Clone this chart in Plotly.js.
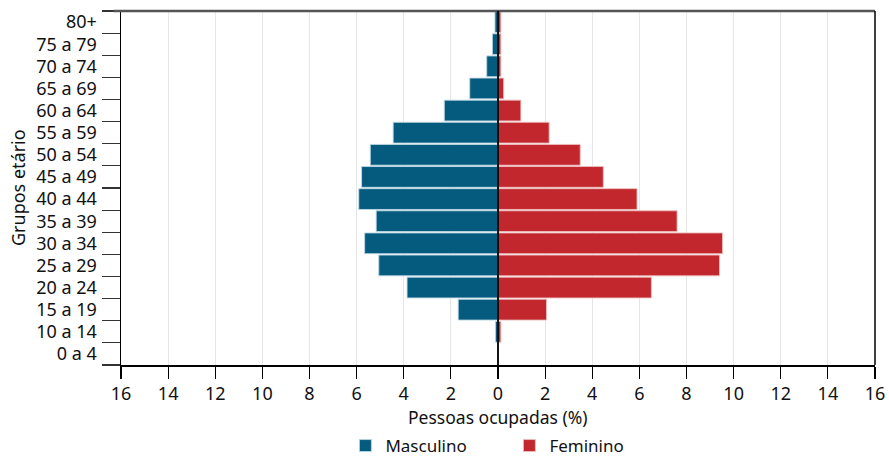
<!DOCTYPE html>
<html>
<head>
<meta charset="utf-8">
<script src="https://cdn.plot.ly/plotly-3.0.1.min.js"></script>
<style>html,body{margin:0;padding:0;background:#fff}#chart{width:889px;height:457px}</style>
</head>
<body>
<div id="chart"></div>
<script>
const ageGroups = ["0 a 4","10 a 14","15 a 19","20 a 24","25 a 29","30 a 34","35 a 39","40 a 44","45 a 49","50 a 54","55 a 59","60 a 64","65 a 69","70 a 74","75 a 79","80+"];
const masculino = [0, 0.11, 1.69, 3.86, 5.06, 5.66, 5.17, 5.91, 5.79, 5.42, 4.45, 2.28, 1.2, 0.48, 0.24, 0.13];
const feminino  = [0, 0.12, 2.06, 6.51, 9.4, 9.53, 7.6, 5.9, 4.47, 3.49, 2.17, 0.97, 0.24, 0.12, 0.12, 0.12];
const xTicks = [-16,-14,-12,-10,-8,-6,-4,-2,0,2,4,6,8,10,12,14,16];

const FONT = "Noto Sans, Open Sans, sans-serif";
const yIdx = ageGroups.map((_, i) => i);
const boundaries = ageGroups.map((_, i) => i - 0.5).concat([ageGroups.length - 0.5]);

const traces = [
  {type:'bar', orientation:'h', name:'Masculino', y:yIdx, x:masculino.map(v=>-v),
   marker:{color:'#045b7e', line:{color:'rgba(190,215,228,0.9)', width:1}}, hoverinfo:'skip'},
  {type:'bar', orientation:'h', name:'Feminino', y:yIdx, x:feminino,
   marker:{color:'#c1272d', line:{color:'rgba(238,190,190,0.9)', width:1}}, hoverinfo:'skip'}
];
const layout = {
  width:889, height:457,
  margin:{l:121, r:14, t:11, b:92},
  paper_bgcolor:'#fff', plot_bgcolor:'#fff',
  font:{family:FONT, size:18, color:'#111'},
  barmode:'relative', bargap:0.06,
  showlegend:true,
  legend:{orientation:'h', xref:'container', yref:'container', x:0.573, xanchor:'center', y:(457-446)/457, yanchor:'middle',
          font:{size:17}, entrywidth:119, traceorder:'normal', tracegroupgap:0},
  xaxis:{range:[-16,16], tickvals:xTicks, ticktext:xTicks.map(v=>String(Math.abs(v))),
         automargin:false,
         showgrid:true, gridcolor:'#e6e6e6', gridwidth:1, zeroline:false,
         showline:true, linecolor:'#000', linewidth:1.5,
         ticks:'outside', ticklen:12, tickcolor:'#000', tickwidth:1.2,
         tickfont:{size:18}, fixedrange:true},
  yaxis:{range:[-0.5, ageGroups.length - 0.5], tickvals:yIdx, ticktext:ageGroups,
         automargin:false,
         showgrid:false, zeroline:false, showline:true, linecolor:'#000', linewidth:1.5,
         ticks:'', ticklabelstandoff:19, tickfont:{size:18}, fixedrange:true,
         minor:{tickvals:boundaries, ticks:'outside', ticklen:18, tickcolor:'#333', tickwidth:1.2, showgrid:false}},
  annotations:[
    {text:'Grupos etário', xref:'paper', yref:'paper', x:(18-121)/754, y:0.5, xanchor:'center', yanchor:'middle',
     textangle:-90, showarrow:false, font:{size:18}},
    {text:'Pessoas ocupadas (%)', xref:'paper', yref:'paper', x:0.5, y:-(417-365)/354, xanchor:'center', yanchor:'middle',
     showarrow:false, font:{size:17.5}}
  ],
  shapes:[
    {type:'line', xref:'paper', yref:'paper', x0:-0.01, x1:1, y0:1, y1:1, line:{color:'#555', width:2.5}},
    {type:'line', xref:'paper', yref:'paper', x0:1, x1:1, y0:0, y1:1, line:{color:'#000', width:1.5}},
    {type:'line', xref:'x', yref:'paper', x0:0, x1:0, y0:0, y1:1, line:{color:'#000', width:1.8}, layer:'above'}
  ]
};
Plotly.newPlot('chart', traces, layout, {displayModeBar:false, staticPlot:true});
</script>
</body>
</html>
